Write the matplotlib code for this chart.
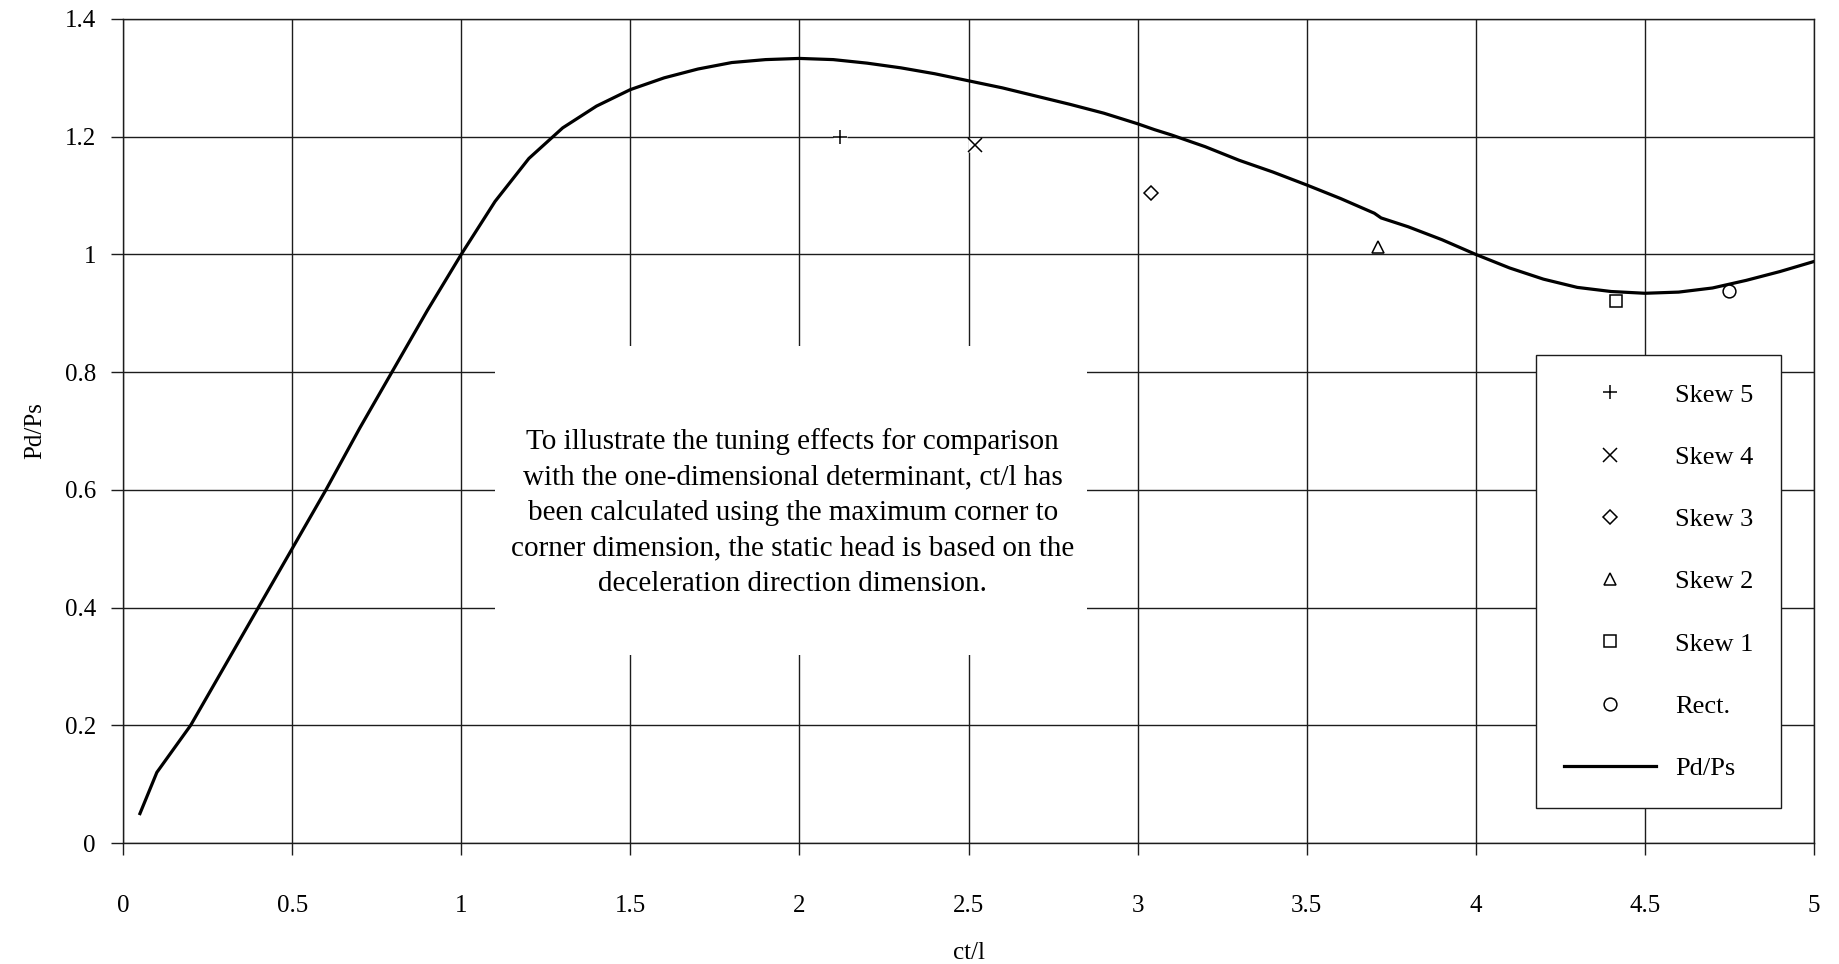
import numpy as np
import matplotlib
matplotlib.use("Agg")
import matplotlib.pyplot as plt
from matplotlib.patches import Rectangle

plt.rcParams["font.family"] = ["Liberation Serif", "DejaVu Serif"]

# Pd/Ps curve (one-dimensional determinant)
ct_l = [0.05, 0.1, 0.2, 0.3, 0.4, 0.5, 0.6, 0.7, 0.8, 0.9, 1.0, 1.1, 1.2, 1.3, 1.4,
        1.5, 1.6, 1.7, 1.8, 1.9, 2.0, 2.1, 2.2, 2.3, 2.4, 2.5, 2.6, 2.7, 2.8, 2.9,
        3.0, 3.05, 3.1, 3.2, 3.3, 3.4, 3.5, 3.6, 3.7, 3.72, 3.8, 3.9, 4.0, 4.1, 4.2,
        4.3, 4.4, 4.5, 4.6, 4.7, 4.8, 4.9, 5.0]
pd_ps = [0.05, 0.12, 0.20, 0.30, 0.40, 0.50, 0.60, 0.705, 0.805, 0.905, 1.0, 1.09,
         1.163, 1.215, 1.252, 1.28, 1.3, 1.315, 1.326, 1.331, 1.333, 1.331, 1.325,
         1.317, 1.307, 1.295, 1.283, 1.269, 1.255, 1.24, 1.222, 1.212, 1.203, 1.183,
         1.16, 1.14, 1.118, 1.095, 1.07, 1.062, 1.047, 1.025, 1.0, 0.977, 0.958, 0.944,
         0.937, 0.934, 0.936, 0.943, 0.956, 0.971, 0.988]

# measured points
labels = ["Skew 5", "Skew 4", "Skew 3", "Skew 2", "Skew 1", "Rect."]
pts_x = [2.12, 2.52, 3.04, 3.71, 4.415, 4.75]
pts_y = [1.20, 1.186, 1.105, 1.012, 0.921, 0.938]
markers = ["+", "x", "D", "^", "s", "o"]
msizes = [10.5, 9.5, 7.3, 9.2, 8.6, 9.2]

x_ticks = [0, 0.5, 1, 1.5, 2, 2.5, 3, 3.5, 4, 4.5, 5]
x_ticklabels = ["0", "0.5", "1", "1.5", "2", "2.5", "3", "3.5", "4", "4.5", "5"]
y_ticks = [0, 0.2, 0.4, 0.6, 0.8, 1.0, 1.2, 1.4]
y_ticklabels = ["0", "0.2", "0.4", "0.6", "0.8", "1", "1.2", "1.4"]

note = ("To illustrate the tuning effects for comparison\n"
        "with the one-dimensional determinant, ct/l has\n"
        "been calculated using the maximum corner to\n"
        "corner dimension, the static head is based on the\n"
        "deceleration direction dimension.")

line_c = "#1c1c1c"

fig = plt.figure(figsize=(18.39, 9.64), dpi=100)
ax = fig.add_axes([0.0669, 0.1255, 0.9195, 0.8548])

ax.set_xlim(0, 5)
ax.set_ylim(0, 1.4)
ax.set_xticks(x_ticks)
ax.set_xticklabels(x_ticklabels)
ax.set_yticks(y_ticks)
ax.set_yticklabels(y_ticklabels)
ax.tick_params(axis="both", direction="out", length=8.5, width=1.0, color=line_c,
               labelsize=18)
ax.tick_params(axis="x", pad=29)
ax.tick_params(axis="y", pad=11)
for s in ax.spines.values():
    s.set_color(line_c)
    s.set_linewidth(1.0)
ax.grid(True, color=line_c, linewidth=1.0)
ax.set_axisbelow(True)

ax.set_xlabel("ct/l", fontsize=18, labelpad=18)
ax.set_ylabel("Pd/Ps", fontsize=18, labelpad=13)

# white panel behind the note (hides grid)
ax.add_patch(Rectangle((1.10, 0.32), 1.75, 0.525, facecolor="white",
                       edgecolor="none", zorder=1))
ax.text(1.98, 0.562, note, ha="center", va="center", fontsize=21,
        linespacing=1.47, zorder=3)

handles = []
for x, y, m, ms, lab in zip(pts_x, pts_y, markers, msizes, labels):
    if m in ("+", "x"):
        ax.plot(x, y, "s", ms=ms, color="white", mec="none", zorder=3)
    h, = ax.plot(x, y, m, ms=ms, mfc="white", mec="black", mew=1.1,
                 linestyle="none", label=lab, zorder=4)
    handles.append(h)

h_line, = ax.plot(ct_l, pd_ps, color="black", linewidth=2.3, label="Pd/Ps", zorder=2)
handles.append(h_line)

leg = ax.legend(handles=handles, loc="upper left", bbox_to_anchor=(0.8356, 0.5917),
                fontsize=19, frameon=True, fancybox=False, shadow=False,
                borderpad=1.05, labelspacing=1.47, handlelength=3.5,
                handletextpad=0.72, borderaxespad=0, numpoints=1)
leg.get_frame().set_edgecolor(line_c)
leg.get_frame().set_linewidth(1.0)
leg.get_frame().set_alpha(1)

fig.savefig("out.png", dpi=100)
